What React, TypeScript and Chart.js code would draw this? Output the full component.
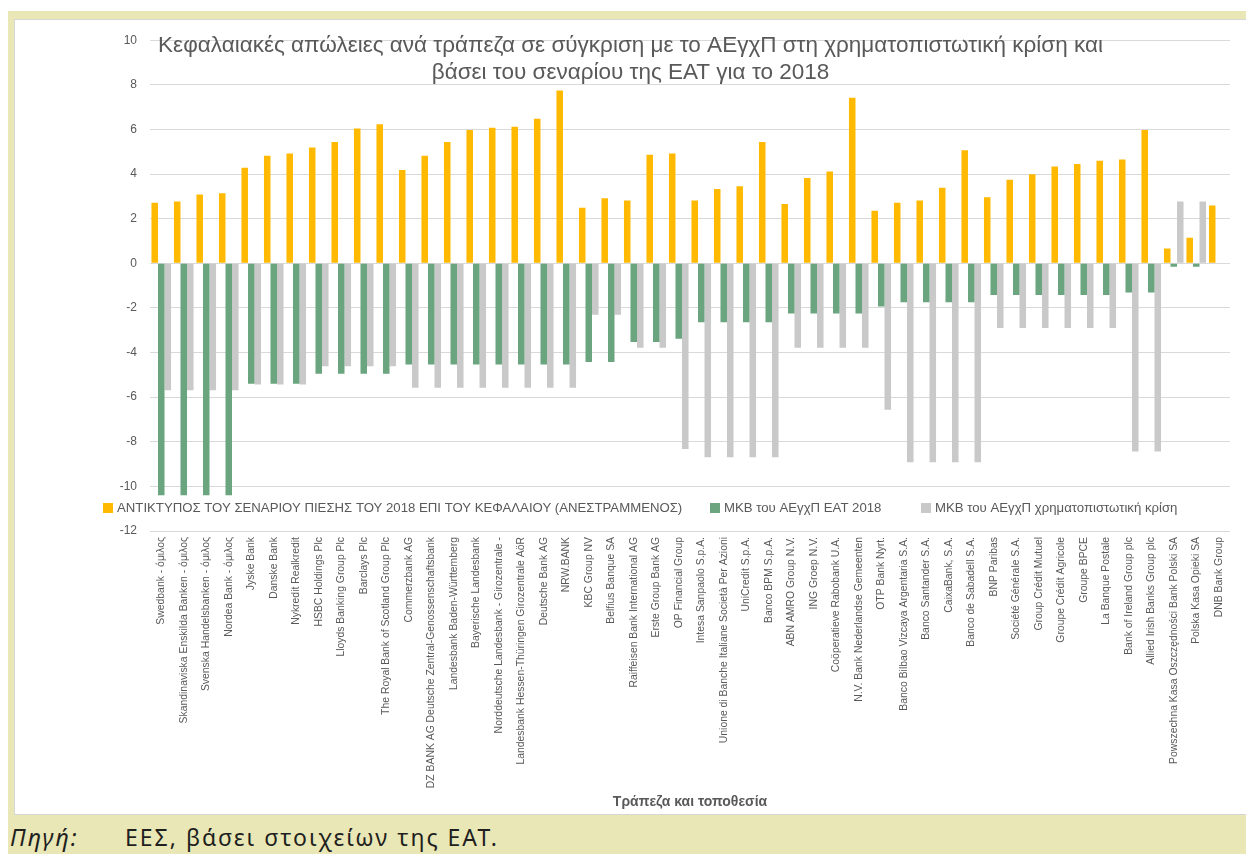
import React, { useEffect, useRef } from "react";
import { Chart, registerables } from "chart.js";

Chart.register(...registerables);

// ---------- DATA ----------
const banks: string[] = [
  "Swedbank - όμιλος",
  "Skandinaviska Enskilda Banken - όμιλος",
  "Svenska Handelsbanken - όμιλος",
  "Nordea Bank - όμιλος",
  "Jyske Bank",
  "Danske Bank",
  "Nykredit Realkredit",
  "HSBC Holdings Plc",
  "Lloyds Banking Group Plc",
  "Barclays Plc",
  "The Royal Bank of Scotland Group Plc",
  "Commerzbank AG",
  "DZ BANK AG Deutsche Zentral-Genossenschaftsbank",
  "Landesbank Baden-Württemberg",
  "Bayerische Landesbank",
  "Norddeutsche Landesbank - Girozentrale -",
  "Landesbank Hessen-Thüringen Girozentrale AöR",
  "Deutsche Bank AG",
  "NRW.BANK",
  "KBC Group NV",
  "Belfius Banque SA",
  "Raiffeisen Bank International AG",
  "Erste Group Bank AG",
  "OP Financial Group",
  "Intesa Sanpaolo S.p.A.",
  "Unione di Banche Italiane Società Per Azioni",
  "UniCredit S.p.A.",
  "Banco BPM S.p.A.",
  "ABN AMRO Group N.V.",
  "ING Groep N.V.",
  "Coöperatieve Rabobank U.A.",
  "N.V. Bank Nederlandse Gemeenten",
  "OTP Bank Nyrt.",
  "Banco Bilbao Vizcaya Argentaria S.A.",
  "Banco Santander S.A.",
  "CaixaBank, S.A.",
  "Banco de Sabadell S.A.",
  "BNP Paribas",
  "Société Générale S.A.",
  "Group Crédit Mutuel",
  "Groupe Crédit Agricole",
  "Groupe BPCE",
  "La Banque Postale",
  "Bank of Ireland Group plc",
  "Allied Irish Banks Group plc",
  "Powszechna Kasa Oszczędności Bank Polski SA",
  "Polska Kasa Opieki SA",
  "DNB Bank Group",
];

// Impact of the 2018 stress scenario on capital (inverted)
const stressImpact: (number | null)[] = [
  2.71, 2.77, 3.08, 3.14, 4.28, 4.82, 4.92, 5.19, 5.44, 6.04, 6.23,
  4.18, 4.82, 5.44, 5.98, 6.08, 6.12, 6.48, 7.74,
  2.49, 2.92, 2.82, 4.86, 4.92, 2.82, 3.33, 3.45, 5.44, 2.66, 3.82,
  4.12, 7.42, 2.35, 2.71, 2.82, 3.39, 5.07, 2.96, 3.75, 3.99, 4.34, 4.45, 4.6, 4.65, 5.98, 0.66, 1.14, 2.59,
];

// MKB of real GDP, EBA 2018
const gdpEba2018: (number | null)[] = [
  -10.4, -10.4, -10.4, -10.4,
  -5.4, -5.4, -5.4,
  -4.95, -4.95, -4.95, -4.95,
  -4.54, -4.54, -4.54, -4.54, -4.54, -4.54, -4.54, -4.54,
  -4.42, -4.42,
  -3.53, -3.53,
  -3.38,
  -2.64, -2.64, -2.64, -2.64,
  -2.25, -2.25, -2.25, -2.25,
  -1.94,
  -1.75, -1.75, -1.75, -1.75,
  -1.42, -1.42, -1.42, -1.42, -1.42, -1.42,
  -1.31, -1.31,
  -0.15, -0.15,
  null,
];

// MKB of real GDP, financial crisis
const gdpCrisis: (number | null)[] = [
  -5.69, -5.69, -5.69, -5.69,
  -5.43, -5.43, -5.43,
  -4.61, -4.61, -4.61, -4.61,
  -5.58, -5.58, -5.58, -5.58, -5.58, -5.58, -5.58, -5.58,
  -2.31, -2.31,
  -3.79, -3.79,
  -8.32,
  -8.69, -8.69, -8.69, -8.69,
  -3.79, -3.79, -3.79, -3.79,
  -6.57,
  -8.92, -8.92, -8.92, -8.92,
  -2.9, -2.9, -2.9, -2.9, -2.9, -2.9,
  -8.44, -8.44,
  2.77, 2.77,
  null,
];

const seriesLabels: string[] = [
  "ΑΝΤΙΚΤΥΠΟΣ ΤΟΥ ΣΕΝΑΡΙΟΥ ΠΙΕΣΗΣ ΤΟΥ 2018 ΕΠΙ ΤΟΥ ΚΕΦΑΛΑΙΟΥ (ΑΝΕΣΤΡΑΜΜΕΝΟΣ)",
  "ΜΚΒ του ΑΕγχΠ ΕΑΤ 2018",
  "ΜΚΒ του ΑΕγχΠ χρηματοπιστωτική κρίση",
];

const titleLines: string[] = [
  "Κεφαλαιακές απώλειες ανά τράπεζα σε σύγκριση με το ΑΕγχΠ στη χρηματοπιστωτική κρίση και",
  "βάσει του σεναρίου της ΕΑΤ για το 2018",
];

const xAxisTitle = "Τράπεζα και τοποθεσία";
const sourceLabel = "Πηγή:";
const sourceText = "ΕΕΣ, βάσει στοιχείων της ΕΑΤ.";

const yMin = -12;
const yMax = 10;
const yStep = 2;

// ---------- STYLE ----------
const COLORS = ["#FFB900", "#6AA57F", "#C9C9C9"];
const TEXT = "#595959";
const GRID = "#D9D9D9";
const FONT = '"Liberation Sans", Arial, sans-serif';
const CANVAS_W = 1231;
const CANVAS_H = 795;
const LEGEND_X = [88, 695, 906];
const LEGEND_Y = 488;

export default function App() {
  const canvasRef = useRef<HTMLCanvasElement | null>(null);

  useEffect(() => {
    const el = canvasRef.current;
    if (!el) return;

    const overlayTitle = {
      id: "overlayTitle",
      afterDraw(chart: any) {
        const c = chart.ctx as CanvasRenderingContext2D;
        c.save();
        c.font = `22.5px ${FONT}`;
        c.fillStyle = TEXT;
        c.textAlign = "center";
        c.textBaseline = "middle";
        const cx = chart.width / 2;
        const ys = [26, 53];
        titleLines.forEach((line, i) => c.fillText(line, cx, ys[i]));
        c.restore();
      },
    };

    const overlayLegend = {
      id: "overlayLegend",
      afterDraw(chart: any) {
        const c = chart.ctx as CanvasRenderingContext2D;
        c.save();
        c.font = `13.2px ${FONT}`;
        c.textBaseline = "middle";
        c.textAlign = "left";
        chart.data.datasets.forEach((ds: any, i: number) => {
          const x = LEGEND_X[i];
          c.fillStyle = ds.backgroundColor;
          c.fillRect(x, LEGEND_Y - 5, 10, 10);
          c.fillStyle = TEXT;
          c.fillText(ds.label, x + 14, LEGEND_Y);
        });
        c.restore();
      },
    };

    const chart = new Chart(el, {
      type: "bar",
      data: {
        labels: banks,
        datasets: [
          { label: seriesLabels[0], data: stressImpact, backgroundColor: COLORS[0] },
          { label: seriesLabels[1], data: gdpEba2018, backgroundColor: COLORS[1] },
          { label: seriesLabels[2], data: gdpCrisis, backgroundColor: COLORS[2] },
        ],
      },
      options: {
        animation: false,
        responsive: false,
        maintainAspectRatio: false,
        layout: { padding: { top: 17, right: 16, left: 0, bottom: 0 } },
        datasets: {
          bar: { categoryPercentage: 0.87, barPercentage: 1.0 },
        },
        plugins: {
          legend: { display: false },
          title: { display: false },
          tooltip: { enabled: false },
        },
        scales: {
          x: {
            grid: { display: false, drawTicks: false },
            border: { display: false },
            ticks: {
              autoSkip: false,
              maxRotation: 90,
              minRotation: 90,
              padding: 6,
              color: TEXT,
              font: { family: FONT, size: 10.4 },
            },
            title: {
              display: true,
              text: xAxisTitle,
              color: TEXT,
              font: { family: FONT, size: 14, weight: "bold" },
              padding: { top: 0, bottom: 4 },
            },
            afterFit(axis: any) {
              axis.height = 284;
            },
          },
          y: {
            min: yMin,
            max: yMax,
            grid: { color: GRID, lineWidth: 1, drawTicks: false },
            border: { display: false },
            ticks: {
              stepSize: yStep,
              padding: 13,
              color: TEXT,
              font: { family: FONT, size: 12 },
            },
            afterFit(axis: any) {
              axis.width = 135;
            },
          },
        },
      },
      plugins: [overlayTitle, overlayLegend],
    } as any);

    return () => chart.destroy();
  }, []);

  return (
    <div
      style={{
        position: "absolute",
        left: 0,
        top: 0,
        width: 1246,
        height: 854,
        background: "#FFFFFF",
        overflow: "hidden",
      }}
    >
      <div
        style={{
          position: "absolute",
          left: 8,
          top: 11,
          width: 1238,
          height: 843,
          background: "#E9E7B5",
        }}
      />
      <div
        style={{
          position: "absolute",
          left: 14,
          top: 19,
          width: 1232,
          height: 796,
          background: "#FFFFFF",
          borderLeft: "1px solid #D6D6D6",
          borderTop: "1px solid #D6D6D6",
          borderBottom: "1px solid #D6D6D6",
          boxSizing: "border-box",
        }}
      />
      <canvas
        ref={canvasRef}
        width={CANVAS_W}
        height={CANVAS_H}
        style={{ position: "absolute", left: 15, top: 20, width: CANVAS_W, height: CANVAS_H }}
      />
      <div
        style={{
          position: "absolute",
          left: 10,
          top: 822,
          fontFamily: '"Noto Sans", sans-serif',
          fontSize: 23,
          letterSpacing: "2px",
          color: "#1F1F1F",
          whiteSpace: "nowrap",
          lineHeight: "30px",
        }}
      >
        <span style={{ fontStyle: "italic", display: "inline-block", width: 115 }}>{sourceLabel}</span>
        <span>{sourceText}</span>
      </div>
    </div>
  );
}
